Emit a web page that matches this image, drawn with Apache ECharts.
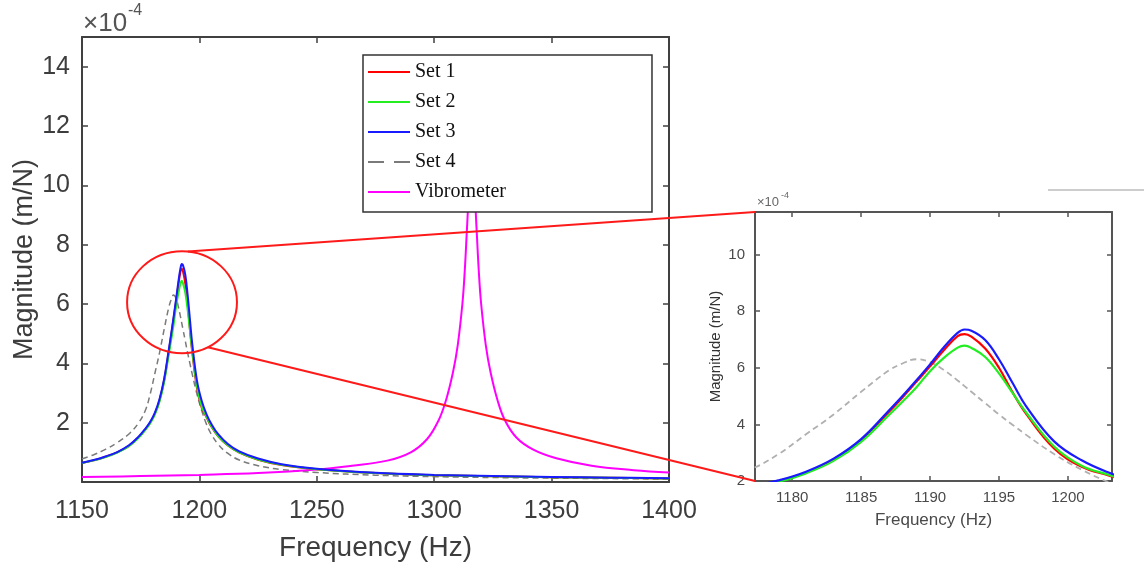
<!DOCTYPE html>
<html>
<head>
<meta charset="utf-8">
<script src="https://cdn.jsdelivr.net/npm/echarts@6/dist/echarts.min.js"></script>
<style>
  html, body { margin: 0; padding: 0; background: #fff; }
  #chart { width: 1144px; height: 566px; }
</style>
</head>
<body>
<div id="chart"></div>
<script>
// Frequency response magnitudes, in units of 1e-4 m/N
const freq = [1150, 1155, 1160, 1165, 1170, 1174, 1177, 1179, 1181, 1183, 1185, 1187, 1188, 1189, 1190, 1191, 1192, 1192.5, 1193, 1194, 1195, 1196, 1197, 1199, 1201, 1203, 1205, 1208, 1212, 1217, 1225, 1235, 1250, 1275, 1300, 1325, 1350, 1375, 1400];
const set1 = [0.64, 0.73, 0.85, 1.00, 1.22, 1.50, 1.78, 2.00, 2.30, 2.75, 3.44, 4.43, 4.95, 5.50, 6.05, 6.62, 7.12, 7.19, 7.10, 6.68, 6.00, 5.12, 4.35, 3.15, 2.50, 2.19, 1.88, 1.54, 1.24, 0.99, 0.75, 0.57, 0.43, 0.30, 0.23, 0.19, 0.16, 0.14, 0.12];
const set2 = [0.64, 0.73, 0.84, 0.99, 1.21, 1.48, 1.76, 1.97, 2.27, 2.71, 3.38, 4.32, 4.80, 5.30, 5.88, 6.35, 6.71, 6.78, 6.70, 6.38, 5.80, 5.10, 4.40, 3.22, 2.54, 2.21, 1.90, 1.55, 1.25, 1.00, 0.76, 0.58, 0.43, 0.30, 0.23, 0.19, 0.16, 0.14, 0.12];
const set3 = [0.65, 0.74, 0.86, 1.01, 1.24, 1.52, 1.80, 2.02, 2.33, 2.79, 3.48, 4.48, 5.00, 5.55, 6.12, 6.72, 7.23, 7.35, 7.31, 6.98, 6.30, 5.45, 4.62, 3.40, 2.73, 2.29, 1.97, 1.61, 1.29, 1.03, 0.79, 0.60, 0.45, 0.31, 0.24, 0.20, 0.17, 0.145, 0.13];
const set4 = [0.78, 0.92, 1.10, 1.33, 1.62, 1.98, 2.42, 2.95, 3.65, 4.35, 5.15, 5.90, 6.15, 6.30, 6.20, 5.92, 5.55, 5.35, 5.15, 4.75, 4.35, 3.98, 3.62, 2.95, 2.40, 1.95, 1.62, 1.27, 0.97, 0.74, 0.55, 0.42, 0.32, 0.23, 0.18, 0.15, 0.13, 0.115, 0.10];

const vibFreq = [1150, 1175, 1200, 1225, 1250, 1265, 1280, 1290, 1297, 1302, 1305, 1308, 1310, 1312, 1313, 1314, 1315, 1316, 1317, 1318, 1319, 1320, 1322, 1324, 1327, 1330, 1335, 1342, 1352, 1367, 1385, 1400];
const vibrometer = [0.17, 0.20, 0.24, 0.30, 0.42, 0.55, 0.72, 1.00, 1.45, 2.10, 2.75, 3.70, 4.60, 6.00, 7.10, 8.60, 10.00, 10.50, 10.00, 8.60, 7.10, 6.00, 4.60, 3.70, 2.75, 2.10, 1.50, 1.10, 0.80, 0.55, 0.40, 0.32];

const seriesNames = ['Set 1', 'Set 2', 'Set 3', 'Set 4', 'Vibrometer'];

// Axis ranges and tick values
const mainX = { min: 1150, max: 1400, step: 50 };
const mainY = { min: 0, max: 15, step: 2 };
const zoomX = { min: 1177.3, max: 1203.2 };
const zoomY = { min: 2, max: 11.5, step: 2 };
const zoomXTicks = [1180, 1185, 1190, 1195, 1200];

// Highlighted region around the first resonance (data units)
const zoomCenter = [1192.6, 6.06];
const zoomRadius = [23.4, 1.72];

const pairs = (xs, ys) => xs.map((x, i) => [x, ys[i]]);
const plain = v => String(v);

const LABEL_FONT = "'Liberation Sans', Arial, sans-serif";
const TITLE_FONT = "'Liberation Sans', Arial, sans-serif";
const AXIS_COLOR = '#404040';
const TEXT_COLOR = '#3d3d3d';

const styles = {
  'Set 1': { color: '#ff0000', type: 'solid', z: 3 },
  'Set 2': { color: '#22ee22', type: 'solid', z: 4 },
  'Set 3': { color: '#1a1aff', type: 'solid', z: 5 },
  'Set 4': { color: '#7a7a7a', type: [6, 4], z: 2 },
  'Vibrometer': { color: '#ff00ff', type: 'solid', z: 2 }
};

function line(name, data, xi, yi, width, colorOverride) {
  const s = styles[name];
  const c = colorOverride || s.color;
  return {
    name, type: 'line', data, xAxisIndex: xi, yAxisIndex: yi,
    symbol: 'none', showSymbol: false, smooth: 0.4,
    lineStyle: { color: c, width, type: s.type },
    itemStyle: { color: c },
    z: s.z, silent: true, animation: false
  };
}

function frameAxis(base, pos, grid, extra) {
  return Object.assign({
    type: 'value', gridIndex: grid, position: pos,
    nameMoveOverlap: false,
    axisLine: { show: true, onZero: false, lineStyle: { color: AXIS_COLOR, width: 2 } },
    axisTick: { show: true, inside: true, length: 6, lineStyle: { color: AXIS_COLOR, width: 1.5 } },
    axisLabel: { show: false },
    splitLine: { show: false }
  }, base, extra || {});
}

const chart = echarts.init(document.getElementById('chart'), null, { renderer: 'canvas' });

const option = {
  animation: false,
  backgroundColor: '#ffffff',
  grid: [
    { left: 82, top: 37, width: 587, height: 445, containLabel: false, outerBoundsMode: 'none' },
    { left: 755, top: 212, width: 357, height: 269, containLabel: false, outerBoundsMode: 'none' }
  ],
  legend: {
    orient: 'vertical', left: 363, top: 55,
    itemWidth: 42, itemHeight: 14, itemGap: 10,
    padding: [7, 146, 10, 4],
    borderColor: '#333', borderWidth: 1.5, backgroundColor: '#fff',
    itemStyle: { opacity: 0 },
    textStyle: { fontFamily: "'Liberation Serif', 'Times New Roman', serif", fontSize: 20, color: '#111', lineHeight: 20 },
    data: seriesNames.map(n => n === 'Set 4'
      ? { name: n, lineStyle: { type: [16, 10] } }
      : { name: n }),
    z: 10
  },
  xAxis: [
    frameAxis({ min: mainX.min, max: mainX.max, interval: mainX.step }, 'bottom', 0, {
      name: 'Frequency (Hz)', nameLocation: 'middle', nameGap: 52,
      nameTextStyle: { fontFamily: TITLE_FONT, fontSize: 28, color: TEXT_COLOR },
      axisLabel: { show: true, margin: 17, formatter: plain, fontFamily: LABEL_FONT, fontSize: 25, color: TEXT_COLOR }
    }),
    frameAxis({ min: mainX.min, max: mainX.max, interval: mainX.step }, 'top', 0),
    frameAxis({ min: zoomX.min, max: zoomX.max }, 'bottom', 1, {
      name: 'Frequency (Hz)', nameLocation: 'middle', nameGap: 31,
      nameTextStyle: { fontFamily: TITLE_FONT, fontSize: 17, color: '#4a4a4a' },
      axisTick: { show: true, inside: true, length: 5, customValues: zoomXTicks, lineStyle: { color: '#555', width: 1.5 } },
      axisLabel: { show: true, margin: 9, customValues: zoomXTicks, formatter: plain, fontFamily: LABEL_FONT, fontSize: 15, color: '#4a4a4a' },
      axisLine: { show: true, onZero: false, lineStyle: { color: '#555', width: 2 } }
    }),
    frameAxis({ min: zoomX.min, max: zoomX.max }, 'top', 1, {
      axisTick: { show: true, inside: true, length: 5, customValues: zoomXTicks, lineStyle: { color: '#555', width: 1.5 } },
      axisLine: { show: true, onZero: false, lineStyle: { color: '#555', width: 2 } }
    })
  ],
  yAxis: [
    frameAxis({ min: mainY.min, max: mainY.max, interval: mainY.step }, 'left', 0, {
      name: 'Magnitude (m/N)', nameLocation: 'middle', nameGap: 44, nameRotate: 90,
      nameTextStyle: { fontFamily: TITLE_FONT, fontSize: 27, color: TEXT_COLOR },
      axisLabel: { show: true, margin: 12, showMinLabel: false, showMaxLabel: false, formatter: plain, fontFamily: LABEL_FONT, fontSize: 25, color: TEXT_COLOR }
    }),
    frameAxis({ min: mainY.min, max: mainY.max, interval: mainY.step }, 'right', 0),
    frameAxis({ min: zoomY.min, max: zoomY.max, interval: zoomY.step }, 'left', 1, {
      name: 'Magnitude (m/N)', nameLocation: 'middle', nameGap: 32, nameRotate: 90,
      nameTextStyle: { fontFamily: TITLE_FONT, fontSize: 15, color: '#333' },
      axisTick: { show: true, inside: true, length: 5, lineStyle: { color: '#555', width: 1.5 } },
      axisLabel: { show: true, margin: 10, showMaxLabel: false, formatter: plain, fontFamily: LABEL_FONT, fontSize: 15, color: '#4a4a4a' },
      axisLine: { show: true, onZero: false, lineStyle: { color: '#555', width: 2 } }
    }),
    frameAxis({ min: zoomY.min, max: zoomY.max, interval: zoomY.step }, 'right', 1, {
      axisTick: { show: true, inside: true, length: 5, lineStyle: { color: '#555', width: 1.5 } },
      axisLine: { show: true, onZero: false, lineStyle: { color: '#555', width: 2 } }
    })
  ],
  series: [
    line('Set 4', pairs(freq, set4), 0, 0, 1.5),
    line('Vibrometer', pairs(vibFreq, vibrometer), 0, 0, 2),
    line('Set 1', pairs(freq, set1), 0, 0, 2),
    line('Set 2', pairs(freq, set2), 0, 0, 2),
    line('Set 3', pairs(freq, set3), 0, 0, 2),
    line('Set 4', pairs(freq, set4), 2, 2, 1.8, '#b0b0b0'),
    line('Set 1', pairs(freq, set1), 2, 2, 2.2),
    line('Set 2', pairs(freq, set2), 2, 2, 2.2),
    line('Set 3', pairs(freq, set3), 2, 2, 2.2)
  ],
  graphic: [
    { id: 'expMain1', type: 'text', left: 83, top: 11, z: 20,
      style: { text: '×10', fontFamily: TITLE_FONT, fontSize: 26, fill: '#555' } },
    { id: 'expMain2', type: 'text', left: 128, top: 3, z: 20,
      style: { text: '-4', fontFamily: TITLE_FONT, fontSize: 16, fill: '#555' } },
    { id: 'expZoom1', type: 'text', left: 757, top: 196, z: 20,
      style: { text: '×10', fontFamily: TITLE_FONT, fontSize: 13, fill: '#666' } },
    { id: 'expZoom2', type: 'text', left: 781, top: 191, z: 20,
      style: { text: '-4', fontFamily: TITLE_FONT, fontSize: 9, fill: '#666' } },
    { id: 'rule', type: 'line', z: 20,
      shape: { x1: 1048, y1: 190, x2: 1144, y2: 190 },
      style: { stroke: '#bdbdbd', lineWidth: 1.5 } }
  ]
};

chart.setOption(option);

// Callout: ellipse around the first resonance, joined to the corners of the zoomed panel
const toMain = p => chart.convertToPixel({ gridIndex: 0 }, p);
const toZoom = p => chart.convertToPixel({ gridIndex: 1 }, p);
const c = toMain(zoomCenter);
const rx = Math.abs(toMain([zoomCenter[0] + zoomRadius[0], zoomCenter[1]])[0] - c[0]);
const ry = Math.abs(toMain([zoomCenter[0], zoomCenter[1] + zoomRadius[1]])[1] - c[1]);
const onEllipse = deg => {
  const t = deg * Math.PI / 180;
  return [c[0] + rx * Math.cos(t), c[1] + ry * Math.sin(t)];
};
const upperStart = onEllipse(-84);
const lowerStart = onEllipse(62);
const upperEnd = toZoom([zoomX.min, zoomY.max]);
const lowerEnd = toZoom([zoomX.min, zoomY.min]);
const redStroke = { stroke: '#ff1a1a', lineWidth: 2, fill: null };

chart.setOption({
  graphic: [
    { id: 'callEllipse', type: 'ellipse', z: 30, shape: { cx: c[0], cy: c[1], rx, ry }, style: redStroke },
    { id: 'callUpper', type: 'line', z: 30,
      shape: { x1: upperStart[0], y1: upperStart[1], x2: upperEnd[0], y2: upperEnd[1] }, style: redStroke },
    { id: 'callLower', type: 'line', z: 30,
      shape: { x1: lowerStart[0], y1: lowerStart[1], x2: lowerEnd[0], y2: lowerEnd[1] }, style: redStroke }
  ]
});
</script>
</body>
</html>
